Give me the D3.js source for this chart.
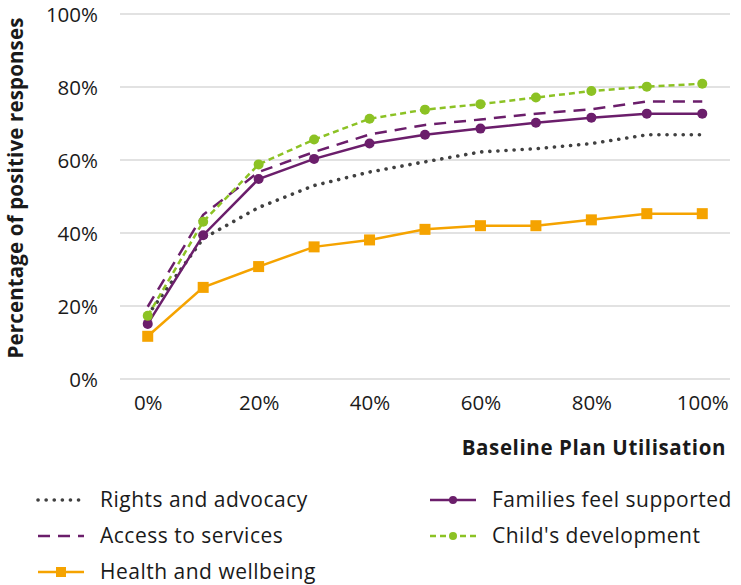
<!DOCTYPE html>
<html><head><meta charset="utf-8">
<script src="https://cdn.jsdelivr.net/npm/d3@7"></script>
<style>body{margin:0;background:#fff;} svg{display:block;font-family:"Open Sans",sans-serif;}</style>
</head><body>
<svg id="c" width="741" height="585"></svg>
<script>
const categories = ["0%","10%","20%","30%","40%","50%","60%","70%","80%","90%","100%"];
const xTickLabels = ["0%","20%","40%","60%","80%","100%"];
const yTicks = [0,20,40,60,80,100];
const rightsAdvocacy = [17.5,38.5,47.0,53.0,56.7,59.5,62.2,63.1,64.5,66.9,66.9];
const accessServices = [19.8,45.0,56.7,62.2,67.0,69.6,71.1,72.7,73.9,76.0,76.0];
const healthWellbeing = [11.7,25.1,30.8,36.2,38.1,41.0,42.0,42.0,43.6,45.3,45.3];
const familiesSupported = [15.1,39.4,54.8,60.3,64.5,66.9,68.6,70.2,71.6,72.7,72.7];
const childDevelopment = [17.3,43.1,58.8,65.6,71.3,73.8,75.3,77.1,78.9,80.1,80.9];

const series = [
  {name:"Rights and advocacy", values:rightsAdvocacy, color:"#404040", dash:"0.1 8", cap:"round", width:3.6, marker:null},
  {name:"Access to services", values:accessServices, color:"#6b1e6b", dash:"12 8", cap:"butt", width:2.5, marker:null},
  {name:"Health and wellbeing", values:healthWellbeing, color:"#f5a300", dash:null, cap:"butt", width:2.5, marker:"square"},
  {name:"Families feel supported", values:familiesSupported, color:"#6b1e6b", dash:null, cap:"butt", width:2.5, marker:"circle"},
  {name:"Child's development", values:childDevelopment, color:"#8cc224", dash:"6 4", cap:"butt", width:2.5, marker:"circle"}
];

const svg = d3.select("#c");
const x = d3.scalePoint().domain(categories).range([120,730]).padding(0.5);
const y = d3.scaleLinear().domain([0,100]).range([379,14]);

// gridlines
svg.append("g").selectAll("line").data(yTicks).join("line")
  .attr("x1",120).attr("x2",730).attr("y1",d=>y(d)).attr("y2",d=>y(d))
  .attr("stroke","#d9d9d9").attr("stroke-width",1.5);

// y axis labels
const yAxis = d3.axisLeft(y).tickValues(yTicks).tickFormat(d=>d+"%").tickSize(0).tickPadding(0);
svg.append("g").attr("transform","translate(98,1)").call(yAxis)
  .call(g=>g.select(".domain").remove())
  .call(g=>g.selectAll("text").attr("font-size",20.5).attr("fill","#1a1a1a").attr("font-family","'Open Sans',sans-serif"));

// x axis labels
const xAxis = d3.axisBottom(x).tickValues(xTickLabels).tickSize(0).tickPadding(0);
svg.append("g").attr("transform","translate(0,395)").call(xAxis)
  .call(g=>g.select(".domain").remove())
  .call(g=>g.selectAll("text").attr("font-size",20.5).attr("fill","#1a1a1a").attr("font-family","'Open Sans',sans-serif"));

// axis titles
svg.append("text").attr("x",726).attr("y",455).attr("text-anchor","end")
  .attr("font-size",20.5).attr("letter-spacing",0.6).attr("font-weight","bold").attr("fill","#1a1a1a").text("Baseline Plan Utilisation");
svg.append("text").attr("transform","translate(23,188) rotate(-90)").attr("text-anchor","middle")
  .attr("font-size",20.5).attr("letter-spacing",0.15).attr("font-weight","bold").attr("fill","#1a1a1a").text("Percentage of positive responses");

const line = d3.line().x((d,i)=>x(categories[i])).y(d=>y(d));

series.forEach(s=>{
  svg.append("path").datum(s.values).attr("d",line).attr("fill","none")
    .attr("stroke",s.color).attr("stroke-width",s.width)
    .attr("stroke-dasharray",s.dash).attr("stroke-linecap",s.cap);
  if(s.marker==="circle"){
    svg.append("g").selectAll("circle").data(s.values).join("circle")
      .attr("cx",(d,i)=>x(categories[i])).attr("cy",d=>y(d)).attr("r",5).attr("fill",s.color);
  } else if(s.marker==="square"){
    svg.append("g").selectAll("rect").data(s.values).join("rect")
      .attr("x",(d,i)=>x(categories[i])-5.5).attr("y",d=>y(d)-5.5).attr("width",11).attr("height",11).attr("fill",s.color);
  }
});

// legend
const legendPos = [
  {x:38,y:500},{x:38,y:536},{x:38,y:572},{x:430,y:500},{x:430,y:536}
];
series.forEach((s,i)=>{
  const p = legendPos[i];
  const g = svg.append("g").attr("transform",`translate(${p.x},${p.y})`);
  g.append("line").attr("x1",0).attr("x2",46).attr("y1",0).attr("y2",0)
    .attr("stroke",s.color).attr("stroke-width",s.width)
    .attr("stroke-dasharray",s.dash).attr("stroke-linecap",s.cap);
  if(s.marker==="circle") g.append("circle").attr("cx",23).attr("cy",0).attr("r",4).attr("fill",s.color);
  if(s.marker==="square") g.append("rect").attr("x",18).attr("y",-5).attr("width",10).attr("height",10).attr("fill",s.color);
  g.append("text").attr("x",62).attr("y",0).attr("dy","0.35em").attr("font-size",21).attr("letter-spacing",0.5).attr("fill","#1a1a1a").text(s.name);
});
</script>
</body></html>
